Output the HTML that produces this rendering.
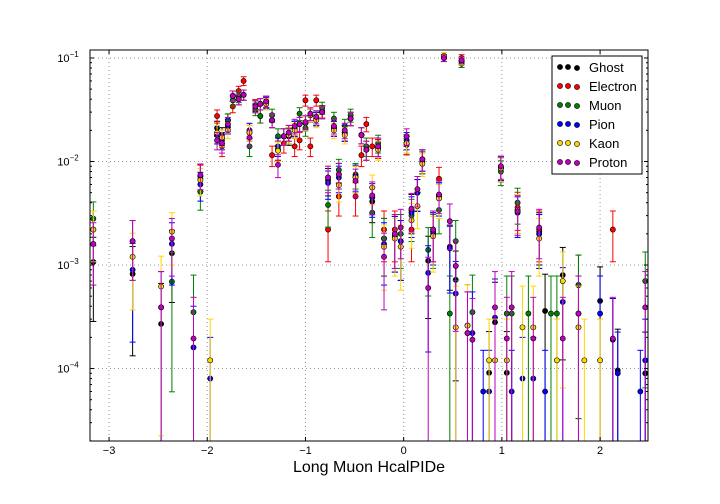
<!DOCTYPE html>
<html><head><meta charset="utf-8"><style>
body{margin:0;background:#fff;}
svg{display:block;font-family:"Liberation Sans",sans-serif;}
</style></head><body>
<svg id="chart" width="720" height="504" xmlns="http://www.w3.org/2000/svg">
<rect x="0" y="0" width="720" height="504" fill="#fff"/>
<g id="grid"></g>
<g id="marks"></g>
<g id="axes"></g>
<text x="369" y="472" font-size="16" text-anchor="middle">Long Muon HcalPIDe</text>
<g id="legend"></g>
</svg>
<script>
const binX=[-3.16,-2.76,-2.47,-2.36,-2.14,-2.07,-1.97,-1.90,-1.85,-1.79,-1.74,-1.68,-1.63,-1.57,-1.51,-1.46,-1.40,-1.34,-1.28,-1.22,-1.17,-1.11,-1.06,-1.00,-0.95,-0.89,-0.83,-0.77,-0.71,-0.66,-0.60,-0.54,-0.49,-0.43,-0.38,-0.32,-0.26,-0.20,-0.09,-0.03,0.03,0.08,0.14,0.19,0.25,0.30,0.36,0.41,0.47,0.53,0.59,0.65,0.70,0.81,0.87,0.93,0.99,1.05,1.10,1.16,1.21,1.27,1.32,1.38,1.44,1.50,1.56,1.62,1.78,1.84,2.00,2.13,2.18,2.41,2.46];
const ghost=[1.07e-3,8.2e-4,2.7e-4,1.3e-3,null,7.2e-3,null,2.1e-2,1.8e-2,2.5e-2,4.3e-2,4e-2,4.4e-2,1.9e-2,3.5e-2,3.6e-2,3.8e-2,2.5e-2,1.3e-2,1.75e-2,1.75e-2,2.1e-2,2.3e-2,2.35e-2,2.8e-2,2.6e-2,3.05e-2,6.6e-3,2.1e-2,7.5e-3,1.9e-2,2.6e-2,7e-3,1.8e-2,1.3e-2,4.1e-3,1.35e-2,1.8e-3,1.9e-3,1.7e-3,1.45e-2,3.4e-3,5e-3,1.05e-2,1.1e-3,2.1e-3,4.6e-3,1e-1,1.5e-3,7.2e-4,9.3e-2,2.6e-4,null,null,9.1e-5,2.8e-4,8.6e-3,9.1e-5,null,3.4e-3,null,null,null,2.1e-3,3.6e-4,null,null,8e-4,6.4e-4,null,4.5e-4,1.9e-4,9.6e-5,null,9e-5];
const electron=[null,null,null,null,null,7.2e-3,null,2.75e-2,1.4e-2,2.5e-2,3.4e-2,4.8e-2,6e-2,1.9e-2,3.5e-2,2.75e-2,3.8e-2,1.15e-2,1.3e-2,1.5e-2,1.9e-2,1.4e-2,1.6e-2,3.9e-2,1.4e-2,3.9e-2,3.05e-2,2.2e-3,2.1e-2,4.6e-3,1.9e-2,2.6e-2,4.6e-3,1.15e-2,2.3e-2,1.4e-2,1.35e-2,2.2e-3,2.2e-3,null,1.45e-2,2.2e-3,5e-3,1e-2,null,2.2e-3,6.8e-3,1e-1,null,null,1e-1,null,null,null,null,null,8.6e-3,null,null,3.6e-3,null,null,null,2.2e-3,null,null,null,null,null,null,null,2.2e-3,null,null,null];
const muon=[2.8e-3,1.7e-3,null,6.9e-4,3.5e-4,5.1e-3,null,1.8e-2,1.7e-2,2.5e-2,3.9e-2,4.2e-2,4.4e-2,1.4e-2,3.2e-2,2.75e-2,3.6e-2,2.8e-2,1.75e-2,1.75e-2,1.8e-2,2.1e-2,2.9e-2,2.1e-2,2.8e-2,2.6e-2,3.3e-2,3.8e-3,2.6e-2,8.3e-3,2.2e-2,2.8e-2,7.5e-3,1.8e-2,1.4e-2,3.2e-3,1.5e-2,1.8e-3,2e-3,2e-3,1.5e-2,3e-3,5e-3,1e-2,1.4e-3,2e-3,3.4e-3,1e-1,3.4e-4,1.7e-3,8.8e-2,null,3.5e-4,null,null,null,8e-3,3.4e-4,3.4e-4,4e-3,null,3.4e-4,null,2e-3,null,3.4e-4,3.4e-4,null,6.4e-4,null,null,null,null,null,7e-4];
const pion=[2.2e-3,9e-4,3.9e-4,1.6e-3,1.6e-4,6e-3,8e-5,1.8e-2,1.6e-2,2.2e-2,4.3e-2,4e-2,4.4e-2,2e-2,3.4e-2,3.6e-2,3.7e-2,2.5e-2,1.4e-2,1.75e-2,1.8e-2,2.1e-2,2.3e-2,2.35e-2,2.8e-2,2.6e-2,3e-2,6.2e-3,2.1e-2,7e-3,1.9e-2,2.6e-2,7.2e-3,1.8e-2,1.3e-2,4.5e-3,1.4e-2,1.6e-3,1.9e-3,1.7e-3,1.6e-2,3.2e-3,5e-3,1.05e-2,8.4e-4,2.1e-3,4.6e-3,1e-1,1.45e-3,5.3e-4,9.3e-2,2.2e-4,2.2e-4,6e-5,6e-5,3.1e-4,8.8e-3,null,6e-5,3.2e-3,8e-5,null,8e-5,2e-3,6e-5,null,null,4.4e-4,3.4e-4,null,3.4e-4,1.9e-4,9e-5,6e-5,1.2e-4];
const kaon=[2.2e-3,1.2e-3,6.2e-4,2.1e-3,null,6.6e-3,1.2e-4,1.9e-2,1.7e-2,2e-2,4.3e-2,4e-2,4.4e-2,1.9e-2,3.4e-2,3.6e-2,3.6e-2,2.5e-2,1.27e-2,1.75e-2,1.8e-2,2e-2,2.3e-2,2.35e-2,2.8e-2,2.5e-2,3e-2,7e-3,2e-2,5.9e-3,1.8e-2,2.6e-2,7e-3,1.8e-2,1.3e-2,5.6e-3,1.3e-2,1.5e-3,1.8e-3,1.5e-3,1.5e-2,2.7e-3,3.7e-3,9.5e-3,null,1.9e-3,4.4e-3,1.05e-1,null,2.5e-4,9.3e-2,2.6e-4,null,null,1.2e-4,1.2e-4,8.6e-3,1.2e-4,null,3.4e-3,2.5e-4,null,2.5e-4,1.8e-3,null,null,1.2e-4,7e-4,2.5e-4,1.2e-4,1.2e-4,null,null,null,null];
const proton=[1.6e-3,1.7e-3,3.9e-4,1.8e-3,1.95e-4,7.4e-3,null,1.6e-2,1.5e-2,2.3e-2,4.3e-2,4e-2,4.4e-2,1.7e-2,3.4e-2,3.6e-2,3.8e-2,2.5e-2,9.3e-3,1.75e-2,1.9e-2,2.2e-2,2.3e-2,2.4e-2,2.9e-2,2.7e-2,3e-2,7e-3,2.2e-2,7.5e-3,2e-2,2.6e-2,6.5e-3,1.8e-2,1.3e-2,4.7e-3,1.4e-2,1.2e-3,2e-3,2.3e-3,1.75e-2,3.5e-3,5.4e-3,1.05e-2,6e-4,2.2e-3,4.8e-3,1e-1,2.65e-3,9.8e-4,9.5e-2,2.2e-4,1.9e-4,null,null,3.9e-4,9e-3,1.95e-4,3.9e-4,3.3e-3,null,null,1.95e-4,2.3e-3,null,null,null,1.95e-4,3.4e-4,null,null,1.95e-4,null,null,3.9e-4];
const seriesNames=["Ghost","Electron","Muon","Pion","Kaon","Proton"];
const seriesColors=["#000000","#ff0000","#008000","#0000ff","#ffd700","#bf00bf"];
const xTicks=[-3,-2,-1,0,1,2];
const yTickExps=[-1,-2,-3,-4];

const L=90,R=648,T=50,B=441;
const X0=-3.194,X1=2.488,Ylo=-4.70,Yhi=-0.923;
const sx=v=>L+(v-X0)/(X1-X0)*(R-L);
const sy=v=>B-(Math.log10(v)-Ylo)/(Yhi-Ylo)*(B-T);
const NS="http://www.w3.org/2000/svg";
function mk(tag,parent,attrs){const e=document.createElementNS(NS,tag);for(const k in attrs)e.setAttribute(k,attrs[k]);parent.appendChild(e);return e;}

const grid=document.getElementById('grid'),axes=document.getElementById('axes'),marks=document.getElementById('marks'),legend=document.getElementById('legend');
xTicks.forEach(t=>{
  const x=sx(t);
  const g=mk('line',grid,{x1:x,x2:x,y1:T,y2:B,stroke:'#999','stroke-dasharray':'1,3','stroke-width':1});
  
  
  mk('line',axes,{x1:x,x2:x,y1:B,y2:B-4,stroke:'#000'});
  mk('line',axes,{x1:x,x2:x,y1:T,y2:T+4,stroke:'#000'});
  const lb=mk('text',axes,{x:x,y:B+13,'font-size':11,'text-anchor':'middle'});
  lb.textContent=(t<0?'\u2212':'')+Math.abs(t);
  
  
});
for(let e=-5;e<=-1;e++){
  for(let m=1;m<10;m++){
    const v=m*Math.pow(10,e);const y=sy(v);
    if(y<T-0.5||y>B+0.5)continue;
    const len=m===1?4:2;
    mk('line',axes,{x1:L,x2:L+len,y1:y,y2:y,stroke:'#000'});
    mk('line',axes,{x1:R,x2:R-len,y1:y,y2:y,stroke:'#000'});
  }
}
yTickExps.forEach(e=>{
  const y=sy(Math.pow(10,e));
  const g=mk('line',grid,{x1:L,x2:R,y1:y,y2:y,stroke:'#999','stroke-dasharray':'1,3','stroke-width':1});
  
  
  const lb=mk('text',axes,{x:L-22,y:y+4,'font-size':11,'text-anchor':'middle'});
  lb.textContent='10';
  const sup=mk('tspan',lb,{dy:-5,'font-size':8});
  sup.textContent='\u2212'+Math.abs(e);
  
  
});
mk('rect',axes,{x:L,y:T,width:R-L,height:B-T,fill:'none',stroke:'#000','stroke-width':1});

const cp=mk('clipPath',marks,{id:'clip'});
mk('rect',cp,{x:L,y:T,width:R-L,height:B-T});
const mg=mk('g',marks,{'clip-path':'url(#clip)'});
const allSeries=[ghost,electron,muon,pion,kaon,proton];
allSeries.forEach((vals,si)=>{
  const c=seriesColors[si];
  const g=mk('g',mg,{});
  
  
  vals.forEach((v,i)=>{
    if(v==null)return;
    const x=sx(binX[i]),y=sy(v);
    const r=Math.min(1.5,0.024/Math.sqrt(v));
    const yTop=sy(v*(1+r));
    const lo=v*(1-r);
    const yBot=lo>0?sy(lo):B+5;
    mk('line',g,{x1:x,x2:x,y1:yTop,y2:yBot,stroke:c,'stroke-width':1});
    mk('line',g,{x1:x-3,x2:x+3,y1:yTop,y2:yTop,stroke:c,'stroke-width':1});
    mk('line',g,{x1:x-3,x2:x+3,y1:yBot,y2:yBot,stroke:c,'stroke-width':1});
    const p=mk('circle',g,{cx:x,cy:y,r:2.6,fill:c,stroke:'#000','stroke-width':0.6});
    
    
  });
});

const lbox=mk('rect',legend,{x:552,y:56,width:90,height:118,fill:'#fff',stroke:'#000','stroke-width':1});


seriesNames.forEach((n,i)=>{
  const y=67+i*19;
  const g=mk('g',legend,{});
  
  
  [560,568,577].forEach((dx,j)=>mk('circle',g,{cx:dx,cy:y+(j===2?1:0),r:2.6,fill:seriesColors[i],stroke:'#000','stroke-width':0.6}));
  const t=mk('text',g,{x:589,y:y+5,'font-size':13});
  t.textContent=n;
});
</script>
</body></html>
